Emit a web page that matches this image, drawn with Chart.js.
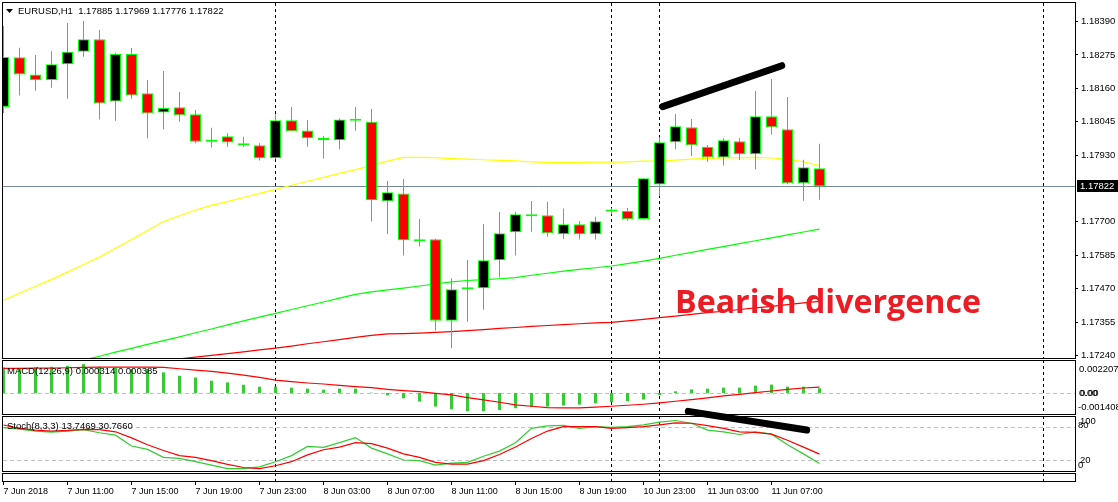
<!DOCTYPE html>
<html><head><meta charset="utf-8">
<script src="https://cdn.jsdelivr.net/npm/chart.js@4.4.0/dist/chart.umd.min.js"></script>
<style>
html,body{margin:0;padding:0;background:#fff;overflow:hidden;}
#wrap{position:relative;width:1118px;height:502px;background:#fff;}
canvas{position:absolute;left:0;}
</style></head><body>
<div id="wrap">
<canvas id="cMain" width="1118" height="359" style="top:0px"></canvas>
<canvas id="cMacd" width="1118" height="56" style="top:359px"></canvas>
<canvas id="cStoch" width="1118" height="67" style="top:405px"></canvas>
<canvas id="cTime" width="1118" height="30" style="top:472px"></canvas>
</div>
<script>
// ---------- DATA ----------
const symbol = "EURUSD,H1";
const timeLabels = ["7 Jun 2018","7 Jun 11:00","7 Jun 15:00","7 Jun 19:00","7 Jun 23:00","8 Jun 03:00","8 Jun 07:00","8 Jun 11:00","8 Jun 15:00","8 Jun 19:00","10 Jun 23:00","11 Jun 03:00","11 Jun 07:00"];
const timeLabelBars = [0,4,8,12,16,20,24,28,32,36,40,44,48];
const separatorBars = [17,38,41,65];

const opens  = [1.18096,1.18267,1.18208,1.18189,1.18243,1.18286,1.18329,1.18115,1.18278,1.18143,1.18077,1.18095,1.18071,1.17976,1.17995,1.17971,1.17964,1.17919,1.18050,1.18015,1.17989,1.17981,1.18048,1.18045,1.17771,1.17798,1.17633,1.17640,1.17359,1.17468,1.17471,1.17568,1.17664,1.17726,1.17723,1.17657,1.17692,1.17657,1.17736,1.17737,1.17710,1.17829,1.17974,1.18026,1.17959,1.17922,1.17978,1.17933,1.18064,1.18019,1.17833,1.17885];
const highs  = [1.18375,1.18300,1.18275,1.18288,1.18385,1.18392,1.18361,1.18283,1.18299,1.18189,1.18220,1.18147,1.18085,1.18024,1.18005,1.17993,1.17971,1.18071,1.18096,1.18051,1.17996,1.18057,1.18096,1.18089,1.17841,1.17848,1.17710,1.17642,1.17506,1.17569,1.17693,1.17734,1.17735,1.17772,1.17769,1.17746,1.17703,1.17718,1.17747,1.17748,1.17851,1.17992,1.18072,1.18054,1.17965,1.17988,1.17989,1.18151,1.18192,1.18130,1.17914,1.17969];
const lows   = [1.18075,1.18135,1.18152,1.18162,1.18124,1.18269,1.18053,1.18048,1.18124,1.17988,1.18018,1.18045,1.17971,1.17956,1.17959,1.17959,1.17911,1.17916,1.18012,1.17959,1.17918,1.17950,1.18014,1.17701,1.17658,1.17584,1.17615,1.17325,1.17265,1.17356,1.17397,1.17508,1.17584,1.17666,1.17649,1.17641,1.17639,1.17639,1.17726,1.17704,1.17708,1.17789,1.17950,1.17927,1.17907,1.17894,1.17913,1.17880,1.18000,1.17830,1.17773,1.17776];
const closes = [1.18268,1.18208,1.18189,1.18243,1.18286,1.18329,1.18108,1.18278,1.18135,1.18073,1.18092,1.18067,1.17976,1.17977,1.17973,1.17964,1.17919,1.18050,1.18012,1.17988,1.17981,1.18053,1.18049,1.17775,1.17802,1.17637,1.17640,1.17359,1.17468,1.17470,1.17568,1.17661,1.17726,1.17719,1.17661,1.17692,1.17657,1.17702,1.17737,1.17709,1.17850,1.17974,1.18029,1.17964,1.17922,1.17981,1.17933,1.18064,1.18026,1.17833,1.17888,1.17822];

const maYellow = [1.17430,1.17454,1.17478,1.17502,1.17527,1.17553,1.17579,1.17609,1.17639,1.17670,1.17701,1.17721,1.17741,1.17757,1.17770,1.17784,1.17798,1.17812,1.17826,1.17840,1.17853,1.17867,1.17880,1.17894,1.17909,1.17922,1.17922,1.17921,1.17918,1.17916,1.17914,1.17912,1.17910,1.17907,1.17905,1.17904,1.17905,1.17906,1.17906,1.17907,1.17909,1.17910,1.17913,1.17916,1.17919,1.17920,1.17921,1.17922,1.17920,1.17916,1.17907,1.17894];
const maLime   = [1.17156,1.17170,1.17183,1.17197,1.17210,1.17224,1.17237,1.17251,1.17264,1.17278,1.17291,1.17304,1.17318,1.17331,1.17345,1.17359,1.17372,1.17385,1.17398,1.17411,1.17424,1.17437,1.17450,1.17459,1.17466,1.17472,1.17479,1.17486,1.17493,1.17498,1.17501,1.17504,1.17508,1.17516,1.17523,1.17530,1.17536,1.17542,1.17548,1.17556,1.17565,1.17574,1.17585,1.17595,1.17605,1.17615,1.17625,1.17635,1.17645,1.17655,1.17665,1.17675];
const maRed    = [1.17160,1.17166,1.17172,1.17178,1.17185,1.17191,1.17197,1.17203,1.17209,1.17216,1.17222,1.17228,1.17234,1.17240,1.17246,1.17252,1.17259,1.17265,1.17272,1.17280,1.17287,1.17294,1.17302,1.17309,1.17314,1.17315,1.17317,1.17319,1.17322,1.17325,1.17329,1.17333,1.17336,1.17340,1.17343,1.17346,1.17349,1.17352,1.17354,1.17359,1.17364,1.17370,1.17375,1.17381,1.17387,1.17392,1.17398,1.17404,1.17409,1.17415,1.17421,1.17426];

const macdMain   = [0.00171,0.00168,0.00171,0.00175,0.00182,0.00193,0.00175,0.00171,0.00160,0.00160,0.00138,0.00115,0.00104,0.00082,0.00071,0.00055,0.00042,0.00042,0.00035,0.00029,0.00022,0.00029,0.00029,0.00002,-0.00016,-0.00036,-0.00058,-0.00091,-0.00109,-0.00122,-0.00122,-0.00115,-0.00102,-0.00095,-0.00091,-0.00084,-0.00078,-0.00069,-0.00062,-0.00056,-0.00044,-0.00013,0.00011,0.00024,0.00029,0.00036,0.00036,0.00049,0.00056,0.00042,0.00042,0.000314];
const macdSignal = [0.001642,0.001642,0.001664,0.001664,0.001687,0.001709,0.001731,0.001731,0.001731,0.001731,0.001709,0.00162,0.001531,0.001442,0.001331,0.001198,0.001043,0.000865,0.000755,0.000666,0.000599,0.00051,0.000422,0.000355,0.000244,0.000155,0.000089,-0.000022,-0.000133,-0.000311,-0.000466,-0.000621,-0.000799,-0.000888,-0.000976,-0.000999,-0.000999,-0.000954,-0.000888,-0.000821,-0.000755,-0.000666,-0.000555,-0.000444,-0.000333,-0.0002,-0.000089,0.000022,0.000133,0.000244,0.000333,0.000385];

const stochK = [78.8,76.3,72.6,70.7,72.6,75.1,69.5,65.2,45.4,39.2,24.9,23.1,16.9,10.7,4.5,4.5,7.6,16.9,28.0,44.7,42.9,51.5,60.8,41.6,31.1,20.0,18.8,10.7,14.4,15.7,26.8,36.1,51.5,77.5,81.9,83.1,77.5,80.6,79.4,80.6,83.7,88.7,91.8,86.8,74.4,71.3,66.4,71.3,67.0,47.8,31.1,13.7469];
const stochD = [83.7,77.5,74.4,72.6,73.8,75.7,75.1,71.3,60.2,47.8,37.3,28.0,24.9,18.8,12.0,6.4,4.5,9.5,16.9,29.3,38.6,43.5,51.5,49.7,41.6,31.1,24.9,15.7,12.6,12.6,18.8,29.9,43.5,59.0,72.6,80.6,80.6,80.6,77.5,78.8,80.6,83.7,87.4,86.8,82.5,77.5,71.3,70.1,67.0,55.9,43.5,30.7660];

const priceTicks = [1.18390,1.18275,1.18160,1.18045,1.17930,1.17700,1.17585,1.17470,1.17355,1.17240];
const macdLevels = [0.002207, 0, -0.001408];
const stochLevels = [20, 80];
const stochAxisLabels = [100, 80, 20, 0];

// hand-drawn annotations (data coordinates)
const trendMainX = [41.2, 48.64];
const trendMainY = [1.18097, 1.18238];
const trendStochX = [42.8, 50.2];
const trendStochY = [108.4, 74.4];
const noteText = "Bearish divergence";
const noteX = 41.97, noteY = 1.17386;

// ---------- STYLE / LAYOUT ----------
const xMin = -0.09375, xMax = 66.96875;
const yMainMin = 1.17231, yMainMax = 1.18454;
const FONT = '"Liberation Sans", Arial, sans-serif';
const FS = 9.5, FS_TIME = 9;
const WICK = '#22dd22', OUTLINE = '#00ff00', LIME2 = '#32cd32';

const pts = arr => arr.map((v, i) => ({x: i, y: v}));
const pairPts = (xs, ys) => xs.map((x, i) => ({x, y: ys[i]}));
const xScale = {type: 'linear', min: xMin, max: xMax, display: false, offset: false, grid: {offset: false}};

function drawFrame(chart, outer) {
  const {ctx, chartArea: a} = chart;
  ctx.save();
  ctx.strokeStyle = '#000'; ctx.lineWidth = 1; ctx.setLineDash([]);
  if (outer) ctx.strokeRect(a.left + 0.5, a.top - 0.5, a.right - a.left, a.bottom - a.top + 1);
  else ctx.strokeRect(a.left + 0.5, a.top + 0.5, a.right - a.left, a.bottom - a.top);
  ctx.restore();
}
function drawSeparators(chart, extra) {
  const {ctx, chartArea: a} = chart; const xs = chart.scales.x;
  ctx.save(); ctx.strokeStyle = '#000'; ctx.lineWidth = 1; ctx.setLineDash([3, 3]);
  separatorBars.forEach(b => {
    const x = Math.floor(xs.getPixelForValue(b)) + 0.5;
    ctx.beginPath(); ctx.moveTo(x, a.top); ctx.lineTo(x, a.bottom + (extra || 0)); ctx.stroke();
  });
  ctx.restore();
}
function hDash(chart, scale, v) {
  const {ctx, chartArea: a} = chart;
  const y = Math.round(scale.getPixelForValue(v)) + 0.5;
  ctx.save(); ctx.strokeStyle = '#c0c0c0'; ctx.lineWidth = 1; ctx.setLineDash([4, 3]);
  ctx.beginPath(); ctx.moveTo(a.left + 1, y); ctx.lineTo(a.right, y); ctx.stroke();
  ctx.restore();
}
function text(ctx, s, x, y, opts = {}) {
  ctx.save();
  ctx.font = opts.font || (FS + 'px ' + FONT);
  ctx.fillStyle = opts.color || '#000';
  ctx.textBaseline = opts.baseline || 'middle';
  ctx.textAlign = opts.align || 'left';
  ctx.fillText(s, x, y);
  ctx.restore();
}
const noPad = s => { s.paddingTop = 0; s.paddingBottom = 0; s.paddingLeft = 0; s.paddingRight = 0; };
const commonOpts = {
  responsive: false, animation: false, events: [],
  plugins: {legend: {display: false}, tooltip: {enabled: false}},
};

// ---------- MAIN PRICE CHART ----------
const last = opens.length - 1;
const mainDecor = {
  id: 'mainDecor',
  beforeDatasetsDraw(chart) {
    drawSeparators(chart);
    const {ctx, chartArea: a} = chart; const ys = chart.scales.y;
    const y = Math.round(ys.getPixelForValue(closes[last])) + 0.5;
    ctx.save(); ctx.strokeStyle = '#778899'; ctx.lineWidth = 1;
    ctx.beginPath(); ctx.moveTo(a.left, y); ctx.lineTo(a.right, y); ctx.stroke();
    ctx.restore();
  },
  afterDatasetsDraw(chart) {
    const {ctx} = chart; const xs = chart.scales.x, ys = chart.scales.y;
    ctx.save();
    let size = 32;
    ctx.font = 'bold ' + size + 'px "Open Sans", "Noto Sans", sans-serif';
    const w = ctx.measureText(noteText).width;
    size = size * 306 / w;
    ctx.restore();
    text(ctx, noteText, xs.getPixelForValue(noteX), ys.getPixelForValue(noteY),
      {font: 'bold ' + size.toFixed(2) + 'px "Open Sans", "Noto Sans", sans-serif', color: '#ed1c24', baseline: 'alphabetic'});
  },
  afterDraw(chart) {
    drawFrame(chart, true);
    const {ctx} = chart; const ys = chart.scales.y;
    ctx.save(); ctx.fillStyle = '#000';
    ctx.beginPath(); ctx.moveTo(6, 9); ctx.lineTo(13, 9); ctx.lineTo(9.5, 13); ctx.closePath(); ctx.fill();
    ctx.restore();
    const hdr = symbol + '  ' + [opens[last], highs[last], lows[last], closes[last]].map(v => v.toFixed(5)).join(' ');
    text(ctx, hdr, 18, 11.5);
    const py = ys.getPixelForValue(closes[last]);
    ctx.save(); ctx.fillStyle = '#000'; ctx.fillRect(1077, Math.round(py) - 6, 41, 12); ctx.restore();
    text(ctx, closes[last].toFixed(5), 1080, Math.round(py), {color: '#fff'});
  }
};
new Chart(document.getElementById('cMain'), {
  type: 'bar',
  data: {datasets: [
    {type: 'line', data: pairPts(trendMainX, trendMainY), borderColor: '#000', borderWidth: 7, borderCapStyle: 'round', pointRadius: 0, order: 0},
    {type: 'bar', data: opens.map((o, i) => ({x: i, y: [o, closes[i]]})),
      backgroundColor: opens.map((o, i) => closes[i] >= o ? '#000000' : '#ff0000'),
      borderColor: OUTLINE, borderWidth: 1, borderSkipped: false, barThickness: 11, minBarLength: 2,
      grouped: false, inflateAmount: 0, order: 1},
    {type: 'bar', data: lows.map((l, i) => ({x: i, y: [l, highs[i]]})),
      backgroundColor: WICK, borderWidth: 0, barThickness: 1, grouped: false, inflateAmount: 0, order: 2},
    {type: 'line', data: pts(maYellow), borderColor: '#ffff00', borderWidth: 1.2, pointRadius: 0, order: 5},
    {type: 'line', data: pts(maLime), borderColor: '#00ff00', borderWidth: 1.2, pointRadius: 0, order: 6},
    {type: 'line', data: pts(maRed), borderColor: '#ff0000', borderWidth: 1.2, pointRadius: 0, order: 7},
  ]},
  options: Object.assign({}, commonOpts, {
    layout: {padding: {left: 2, right: 0, top: 3, bottom: 1}},
    scales: {
      x: xScale,
      y: {type: 'linear', position: 'right', min: yMainMin, max: yMainMax,
        afterBuildTicks: s => { s.ticks = priceTicks.map(v => ({value: v})); },
        afterFit: s => { s.width = 43; noPad(s); },
        grid: {drawOnChartArea: false, drawTicks: true, tickLength: 3, tickColor: '#000'},
        border: {display: false},
        ticks: {autoSkip: false, padding: 3, color: '#000', font: {family: FONT, size: FS},
          callback: v => Number(v).toFixed(5)}
      }
    }
  }),
  plugins: [mainDecor]
});

// ---------- MACD ----------
const macdDecor = {
  id: 'macdDecor',
  beforeDatasetsDraw(chart) { hDash(chart, chart.scales.y, 0); drawSeparators(chart); },
  afterDraw(chart) {
    drawFrame(chart, false);
    const {ctx} = chart; const ys = chart.scales.y;
    text(ctx, 'MACD(12,26,9) ' + macdMain[last].toFixed(6) + ' ' + macdSignal[last].toFixed(6), 7, ys.getPixelForValue(macdLevels[0]) + 11);
    text(ctx, macdLevels[0].toFixed(6), 1079, ys.getPixelForValue(macdLevels[0]) + 9);
    text(ctx, '0.00', 1079, ys.getPixelForValue(0));
    text(ctx, '0.00', 1080, ys.getPixelForValue(0));
    text(ctx, macdLevels[2].toFixed(6), 1078, ys.getPixelForValue(macdLevels[2]) - 6.5);
  }
};
new Chart(document.getElementById('cMacd'), {
  type: 'bar',
  data: {datasets: [
    {type: 'line', data: pts(macdSignal), borderColor: '#ff0000', borderWidth: 1.2, pointRadius: 0, order: 0},
    {type: 'bar', data: pts(macdMain), backgroundColor: LIME2, borderWidth: 0, barThickness: 3, inflateAmount: 0, grouped: false, order: 1},
  ]},
  options: Object.assign({}, commonOpts, {
    layout: {padding: {left: 2, right: 43, top: 1, bottom: 1}},
    scales: {
      x: xScale,
      y: {type: 'linear', min: macdLevels[2], max: macdLevels[0], display: false}
    }
  }),
  plugins: [macdDecor]
});

// ---------- STOCHASTIC ----------
const stochDecor = {
  id: 'stochDecor',
  beforeDatasetsDraw(chart) { stochLevels.forEach(v => hDash(chart, chart.scales.y, v)); drawSeparators(chart); },
  beforeDraw(chart) { drawFrame(chart, false); },
  afterDraw(chart) {
    const {ctx} = chart; const ys = chart.scales.y;
    text(ctx, 'Stoch(8,3,3) ' + stochK[last].toFixed(4) + ' ' + stochD[last].toFixed(4), 7, ys.getPixelForValue(100) + 10);
    const dy = {100: 5, 80: -2, 20: 0.5, 0: -6};
    const dx = {100: 1080, 80: 1078, 20: 1080, 0: 1078};
    stochAxisLabels.forEach(v => text(ctx, String(v), dx[v], ys.getPixelForValue(v) + dy[v]));
  }
};
new Chart(document.getElementById('cStoch'), {
  type: 'line',
  data: {datasets: [
    {data: pairPts(trendStochX, trendStochY), borderColor: '#000', borderWidth: 7, borderCapStyle: 'round', pointRadius: 0, clip: false, order: 0},
    {data: pts(stochD), borderColor: '#ff0000', borderWidth: 1.2, pointRadius: 0, order: 1},
    {data: pts(stochK), borderColor: LIME2, borderWidth: 1.2, pointRadius: 0, order: 2},
  ]},
  options: Object.assign({}, commonOpts, {
    layout: {padding: {left: 2, right: 43, top: 11, bottom: 1}},
    scales: {
      x: xScale,
      y: {type: 'linear', min: 0, max: 100, display: false}
    }
  }),
  plugins: [stochDecor]
});

// ---------- TIME AXIS ----------
const timeDecor = {
  id: 'timeDecor',
  afterDraw(chart) { drawSeparators(chart, 3); drawFrame(chart, false); }
};
new Chart(document.getElementById('cTime'), {
  type: 'line',
  data: {datasets: []},
  options: Object.assign({}, commonOpts, {
    layout: {padding: {left: 2, right: 43, top: 1, bottom: 0}},
    scales: {
      y: {display: false, min: 0, max: 1},
      x: {type: 'linear', position: 'bottom', min: xMin, max: xMax, offset: false,
        afterBuildTicks: s => { s.ticks = timeLabelBars.map(v => ({value: v})); },
        afterFit: s => { s.height = 21; noPad(s); },
        grid: {drawOnChartArea: false, drawTicks: true, tickLength: 4, tickColor: '#000'},
        border: {display: false},
        ticks: {autoSkip: false, maxRotation: 0, minRotation: 0, align: 'start', padding: 1, color: '#000',
          font: {family: FONT, size: FS_TIME},
          callback: (v) => { const k = timeLabelBars.indexOf(Math.round(v)); return k >= 0 ? timeLabels[k] : ''; }}
      }
    }
  }),
  plugins: [timeDecor]
});
</script>
</body></html>
